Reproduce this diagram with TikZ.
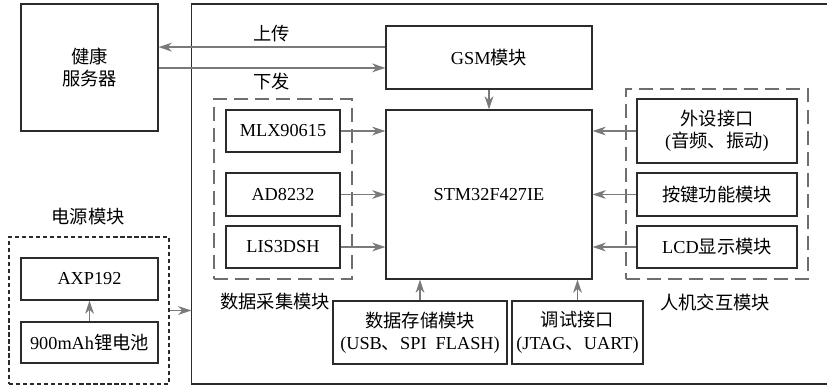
\documentclass[tikz,border=0pt]{standalone}
\usepackage{fontspec}
\setmainfont{Liberation Serif}
\newfontfamily\cjk{Noto Sans CJK SC}
\usetikzlibrary{arrows.meta,calc,positioning}
\definecolor{wire}{HTML}{7A7A7A}
\definecolor{frame}{HTML}{2B2B2B}
\definecolor{dashgray}{HTML}{6E6E6E}
\newcommand{\zh}[1]{{\cjk #1}}
\tikzset{
  block/.style={
    draw=frame,
    line width=0.8pt,
    fill=white,
    align=center,
    font=\fontsize{13}{16}\selectfont,
    inner sep=2pt
  },
  group/.style={draw=dashgray, line width=0.8pt, dash pattern=on 10pt off 5pt},
  powergroup/.style={draw=frame, line width=0.8pt, dash pattern=on 3pt off 2pt},
  link/.style={draw=wire, line width=0.9pt, -{Stealth[length=3.3mm,width=2.2mm,inset=1mm]}},
  caption/.style={font=\fontsize{13}{16}\selectfont, inner sep=0pt}
}

\begin{document}
\begin{tikzpicture}[x=0.025cm,y=-0.025cm]
\useasboundingbox (0,0) rectangle (827,388);
\fill[white] (0,0) rectangle (827,388);

% outer board, its right side runs off the page
\node[draw=frame, line width=0.8pt, minimum width=16cm, minimum height=9.5cm] (board) at (512,194) {};

\node[block, minimum width=3.425cm, minimum height=3.175cm] (server) at (89.5,67.5) {\zh{健康}\\\zh{服务器}};
\node[block, minimum width=5.15cm, minimum height=1.575cm] (gsm) at (489,57.5) {GSM\zh{模块}};
\node[block, minimum width=5.15cm, minimum height=4.225cm] (stm) at (489,194.5) {STM32F427IE};

\coordinate (upl) at ([yshift=0.26cm]gsm.west);
\coordinate (dnl) at ([yshift=-0.26cm]gsm.west);
\draw[link] (upl) -- node[caption, above=3pt] {\zh{上传}} (upl -| server.east);
\draw[link] (dnl -| server.east) -- node[caption, below=3pt] {\zh{下发}} (dnl);
\draw[link] (gsm.south) -- (stm.north);

% data acquisition group
\node[group, minimum width=3.45cm, minimum height=4.5cm] (acq) at (283,189) {};
\node[block, minimum width=2.85cm, minimum height=1.05cm] (mlx) at (283,131) {MLX90615};
\node[block, minimum width=2.85cm, minimum height=1.075cm] (ecg) at (283,194.5) {AD8232};
\node[block, minimum width=2.85cm, minimum height=1.05cm] (accel) at (283,247) {LIS3DSH};
\node[caption] (acqlabel) at (275,302) {\zh{数据采集模块}};
\draw[link] (mlx.east) -- (mlx -| stm.west);
\draw[link] (ecg.east) -- (ecg -| stm.west);
\draw[link] (accel.east) -- (accel -| stm.west);

% human-machine group
\node[group, minimum width=4.55cm, minimum height=4.75cm] (hmi) at (717,184) {};
\node[block, minimum width=4cm, minimum height=1.6cm] (periph) at (717,131) {\zh{外设接口}\\(\zh{音频、振动})};
\node[block, minimum width=4cm, minimum height=1.075cm] (keys) at (717,194.5) {\zh{按键功能模块}};
\node[block, minimum width=4cm, minimum height=1.05cm] (lcd) at (717,247) {LCD\zh{显示模块}};
\node[caption] (hmilabel) at (715,302) {\zh{人机交互模块}};
\draw[link] (periph.west) -- (periph -| stm.east);
\draw[link] (keys.west) -- (keys -| stm.east);
\draw[link] (lcd.west) -- (lcd -| stm.east);

% storage and debug
\node[block, minimum width=4.35cm, minimum height=1.575cm] (storage) at (420,332.5) {\zh{数据存储模块}\\(USB\zh{、}SPI\enspace FLASH)};
\node[block, minimum width=3.275cm, minimum height=1.575cm] (debug) at (577.5,332.5) {\zh{调试接口}\\(JTAG\zh{、}UART)};
\draw[link] (storage.north) -- (storage.north |- stm.south);
\draw[link] (debug.north) -- (debug.north |- stm.south);

% power group
\node[powergroup, minimum width=4cm, minimum height=3.675cm] (pwr) at (89,310.5) {};
\node[block, minimum width=3.425cm, minimum height=1.05cm] (axp) at (89.5,279) {AXP192};
\node[block, minimum width=3.425cm, minimum height=1.025cm] (battery) at (89.5,342.5) {900mAh\zh{锂电池}};
\node[caption] (pwrlabel) at (88,217) {\zh{电源模块}};
\draw[link] (battery.north) -- (axp.south);
\draw[link] (pwr.east) -- (pwr.east -| board.west);
\end{tikzpicture}
\end{document}
